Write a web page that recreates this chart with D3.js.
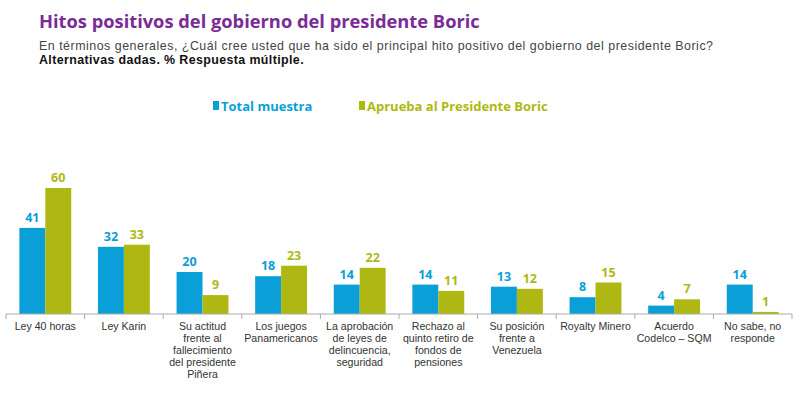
<!doctype html>
<html>
<head>
<meta charset="utf-8">
<script src="https://d3js.org/d3.v7.min.js"></script>
<style>
  body { margin: 0; background: #fff; }
  text { font-family: "Open Sans", sans-serif; }
  text.title { font-size: 18.3px; font-weight: 700; fill: #7a2b96; }
  text.sub { font-size: 12.4px; fill: #444; font-family: "Liberation Sans", sans-serif; letter-spacing: 0.52px; }
  text.sub2 { font-size: 12.4px; font-weight: 700; fill: #111; font-family: "Liberation Sans", sans-serif; letter-spacing: 0.4px; }
  text.legend { font-size: 13px; font-weight: 700; }
  text.value { font-size: 12.5px; font-weight: 700; }
  text.cat { font-size: 10.6px; fill: #333; font-family: "Liberation Sans", sans-serif; }
  .axis line, .axis path { stroke: #aaa; }
</style>
</head>
<body>
<svg id="chart" width="800" height="397"></svg>
<script>
const categories = [
  ["Ley 40 horas"],
  ["Ley Karin"],
  ["Su actitud", "frente al", "fallecimiento", "del presidente", "Piñera"],
  ["Los juegos", "Panamericanos"],
  ["La aprobación", "de leyes de", "delincuencia,", "seguridad"],
  ["Rechazo al", "quinto retiro de", "fondos de", "pensiones"],
  ["Su posición", "frente a", "Venezuela"],
  ["Royalty Minero"],
  ["Acuerdo", "Codelco – SQM"],
  ["No sabe, no", "responde"]
];
const totalMuestra = [41, 32, 20, 18, 14, 14, 13, 8, 4, 14];
const apruebaBoric = [60, 33, 9, 23, 22, 11, 12, 15, 7, 1];
const seriesNames = ["Total muestra", "Aprueba al Presidente Boric"];
const colors = ["#0a9fd8", "#afb812"];

const svg = d3.select("#chart");

svg.append("text").attr("class", "title").attr("x", 39).attr("y", 28)
  .text("Hitos positivos del gobierno del presidente Boric");
svg.append("text").attr("class", "sub").attr("x", 39).attr("y", 50)
  .text("En términos generales, ¿Cuál cree usted que ha sido el principal hito positivo del gobierno del presidente Boric?");
svg.append("text").attr("class", "sub2").attr("x", 39).attr("y", 64)
  .text("Alternativas dadas. % Respuesta múltiple.");

const data = categories.map((c, i) => ({ idx: i, label: c, values: [totalMuestra[i], apruebaBoric[i]] }));

const x = d3.scaleBand().domain(d3.range(categories.length)).range([6, 792]).paddingInner(0);
const x1 = d3.scaleBand().domain([0, 1]).range([x.bandwidth() * 0.17, x.bandwidth() * 0.83]);
const y = d3.scaleLinear().domain([0, 60]).range([314, 188]);

// legend
const legX = [213, 359];
seriesNames.forEach((s, i) => {
  svg.append("rect").attr("x", legX[i]).attr("y", 101).attr("width", 6).attr("height", 9).attr("fill", colors[i]);
  svg.append("text").attr("class", "legend").attr("x", legX[i] + 8).attr("y", 111).attr("fill", colors[i]).text(s);
});

const groups = svg.selectAll("g.grp").data(data).enter().append("g")
  .attr("class", "grp")
  .attr("transform", d => `translate(${x(d.idx)},0)`);

groups.selectAll("rect").data(d => d.values.map((v, k) => ({ k, v }))).enter().append("rect")
  .attr("x", d => x1(d.k))
  .attr("width", x1.bandwidth())
  .attr("y", d => y(d.v))
  .attr("height", d => y(0) - y(d.v))
  .attr("fill", d => colors[d.k]);

groups.selectAll("text.value").data(d => d.values.map((v, k) => ({ k, v }))).enter().append("text")
  .attr("class", "value")
  .attr("x", d => x1(d.k) + x1.bandwidth() / 2)
  .attr("y", d => y(d.v) - 6)
  .attr("text-anchor", "middle")
  .attr("fill", d => colors[d.k])
  .text(d => d.v);

// baseline axis with ticks at band edges
const axis = svg.append("g").attr("class", "axis");
axis.append("line").attr("x1", x.range()[0]).attr("x2", x.range()[1]).attr("y1", y(0)).attr("y2", y(0));
d3.range(categories.length + 1).forEach(i => {
  const xx = i < categories.length ? x(i) : x.range()[1];
  axis.append("line").attr("x1", xx).attr("x2", xx).attr("y1", y(0)).attr("y2", y(0) + 5);
});

groups.each(function(d) {
  const t = d3.select(this).append("text").attr("class", "cat")
    .attr("text-anchor", "middle")
    .attr("y", 330);
  d.label.forEach((line, j) => {
    t.append("tspan").attr("x", x.bandwidth() / 2).attr("dy", j === 0 ? 0 : 12).text(line);
  });
});
</script>
</body>
</html>
